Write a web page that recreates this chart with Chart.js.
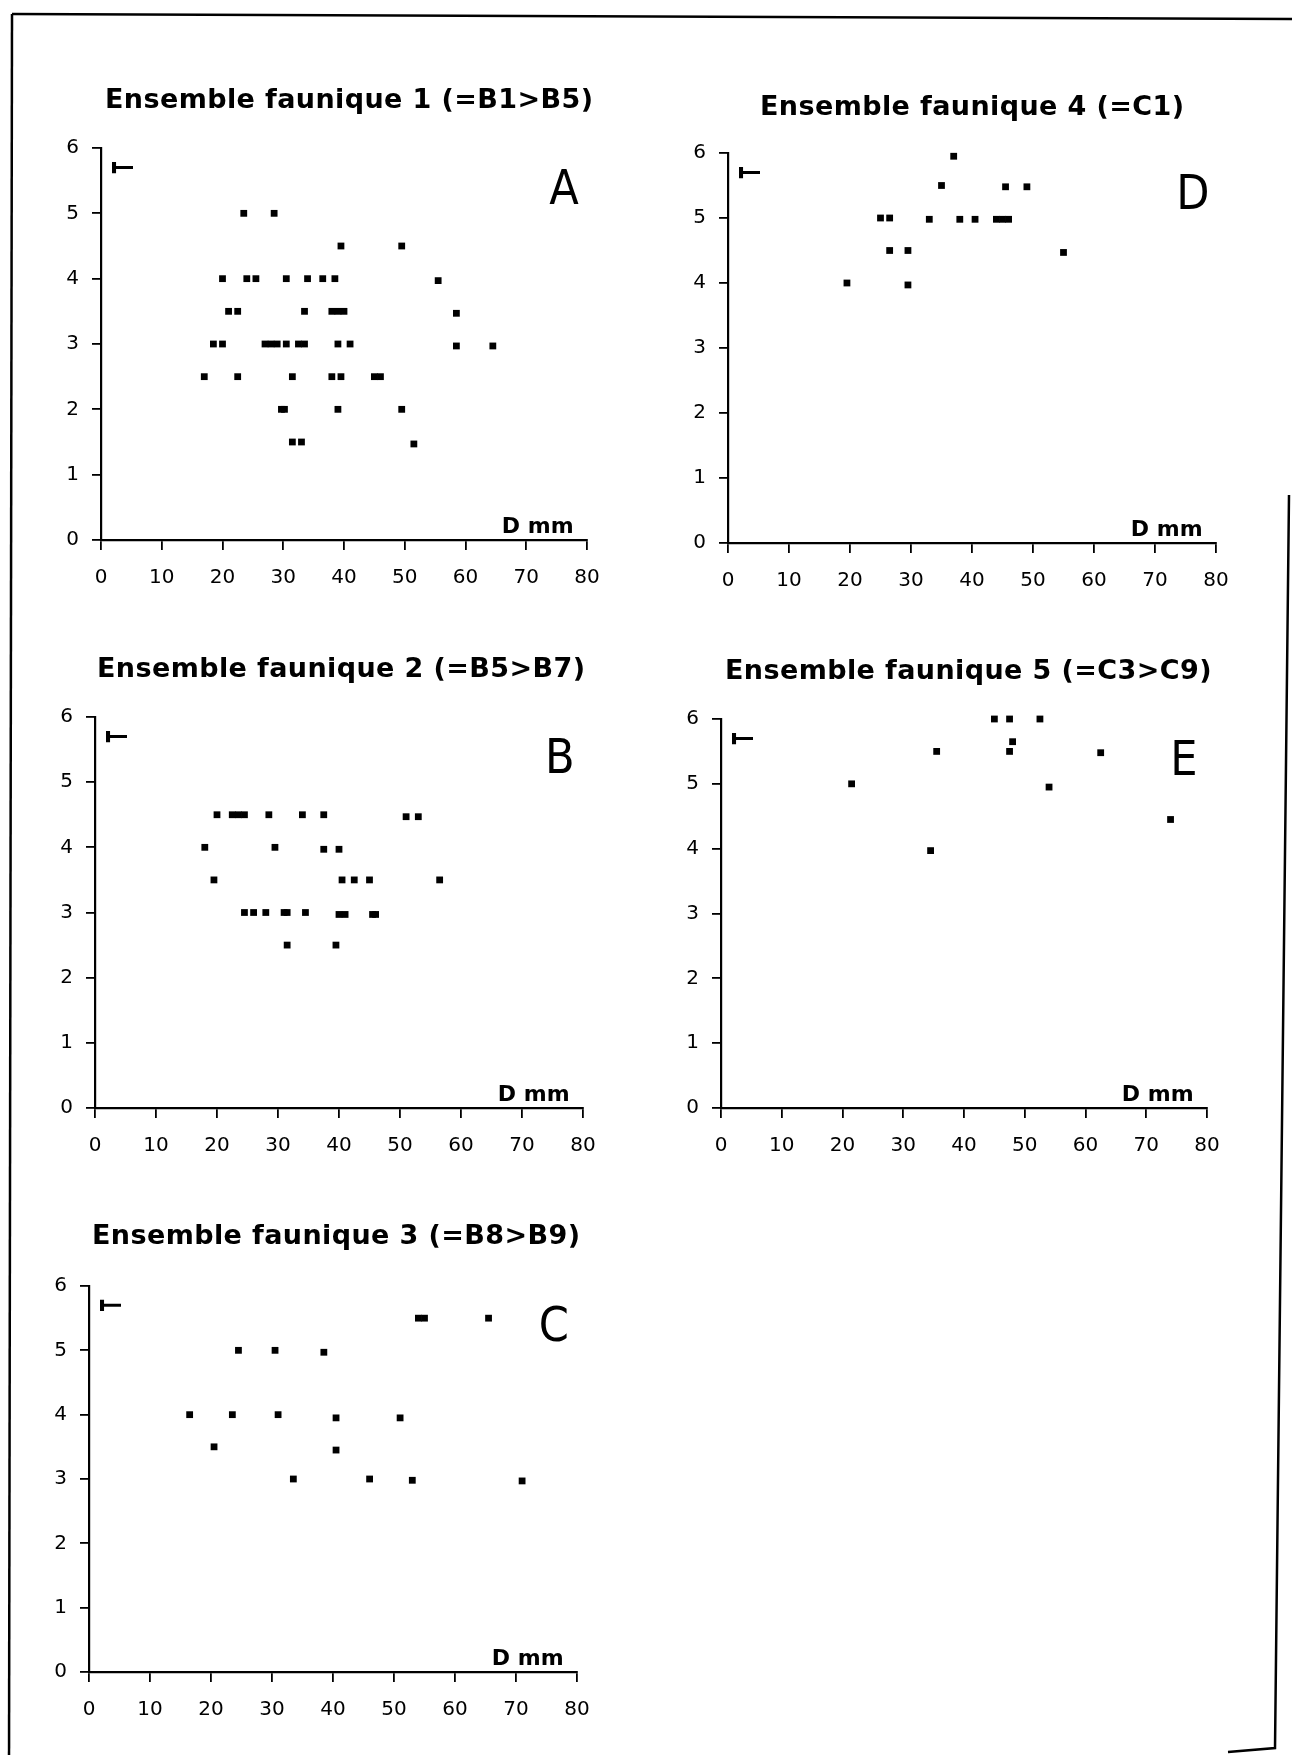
<!DOCTYPE html>
<html>
<head>
<meta charset="utf-8">
<script src="https://cdn.jsdelivr.net/npm/chart.js@4.4.1/dist/chart.umd.min.js"></script>
<style>
body{margin:0;background:#fff;width:1292px;height:1755px;position:relative;overflow:hidden;}
.ttl{position:absolute;font-family:'DejaVu Sans';font-weight:bold;font-size:27px;line-height:27px;letter-spacing:0.4px;white-space:nowrap;color:#000;}
canvas{position:absolute;}
</style>
</head>
<body>
<canvas id="page" width="1292" height="1755" style="left:0;top:0"></canvas>
<script>
var xTicks = [0,10,20,30,40,50,60,70,80];
var yTicks = [0,1,2,3,4,5,6];

// Ensemble faunique 1 (A)
var ens1D = [23.5,28.5, 39.5,49.5, 20,24,25.5,30.5,34,36.5,38.5,55.5, 21,22.5,33.5,38,39,40,58.5,
             18.5,20,27,28,29,30.5,32.5,33.5,39,41,58.5,64.5, 17,22.5,31.5,38,39.5,45,46, 29.7,30.2,39,49.5, 31.5,33,51.5];
var ens1T = [5,5, 4.5,4.5, 4,4,4,4,4,4,4,3.97, 3.5,3.5,3.5,3.5,3.5,3.5,3.47,
             3,3,3,3,3,3,3,3,3,3,2.97,2.97, 2.5,2.5,2.5,2.5,2.5,2.5,2.5, 2,2,2,2, 1.5,1.5,1.47];

// Ensemble faunique 2 (B)
var ens2D = [20,22.5,23.5,24.5,28.5,34,37.5,51,53, 18,29.5,37.5,40, 19.5,40.5,42.5,45,56.5,
             24.5,26,28,31,31.5,34.5,40,41,45.5,46, 31.5,39.5];
var ens2T = [4.5,4.5,4.5,4.5,4.5,4.5,4.5,4.47,4.47, 4,4,3.97,3.97, 3.5,3.5,3.5,3.5,3.5,
             3,3,3,3,3,3,2.97,2.97,2.97,2.97, 2.5,2.5];

// Ensemble faunique 3 (C)
var ens3D = [54,55,65.5, 24.5,30.5,38.5, 16.5,23.5,31,40.5,51, 20.5,40.5, 33.5,46,53,71];
var ens3T = [5.5,5.5,5.5, 5,5,4.97, 4,4,4,3.95,3.95, 3.5,3.45, 3,3,2.98,2.97];

// Ensemble faunique 4 (D)
var ens4D = [37, 35,45.5,49, 25,26.5,33,38,40.5,44,45,46, 26.5,29.5,55, 19.5,29.5];
var ens4T = [5.95, 5.5,5.48,5.48, 5,5,4.98,4.98,4.98,4.98,4.98,4.98, 4.5,4.5,4.47, 4,3.97];

// Ensemble faunique 5 (E)
var ens5D = [45,47.5,52.5, 47.5,48, 35.5,62.5, 21.5,54, 74, 34.5];
var ens5T = [6,6,6, 5.5,5.65, 5.5,5.48, 5,4.95, 4.45, 3.97];

var panels = [
  {title:'Ensemble faunique 1 (=B1>B5)', letter:'A', d:ens1D, t:ens1T, l:101, top:148, r:587, b:540, tx:105, tb:108},
  {title:'Ensemble faunique 4 (=C1)',    letter:'D', d:ens4D, t:ens4T, l:728, top:153, r:1216, b:543, tx:760, tb:115},
  {title:'Ensemble faunique 2 (=B5>B7)', letter:'B', d:ens2D, t:ens2T, l:95, top:717, r:583, b:1108, tx:97, tb:677},
  {title:'Ensemble faunique 5 (=C3>C9)', letter:'E', d:ens5D, t:ens5T, l:721, top:719, r:1207, b:1108, tx:725, tb:679},
  {title:'Ensemble faunique 3 (=B8>B9)', letter:'C', d:ens3D, t:ens3T, l:89, top:1286, r:577, b:1672, tx:92, tb:1244}
];

// page frame of the scanned sheet
var g = document.getElementById('page').getContext('2d');
g.strokeStyle = '#000'; g.lineWidth = 2.5;
g.beginPath(); g.moveTo(12,14); g.lineTo(1292,19); g.stroke();
g.beginPath(); g.moveTo(12,14); g.lineTo(9,1755); g.stroke();
g.beginPath(); g.moveTo(1289,495); g.lineTo(1275,1748); g.lineTo(1228,1752); g.stroke();

var panelMarks = {
  id:'panelMarks',
  afterDraw:function(chart){
    var o = chart.options.plugins.panelMarks, ctx = chart.ctx;
    var sx = chart.scales.x, sy = chart.scales.y;
    ctx.save();
    ctx.fillStyle = '#000';
    ctx.textBaseline = 'alphabetic';
    ctx.font = '48px "DejaVu Sans Condensed", "DejaVu Sans"';
    ctx.textAlign = 'center';
    ctx.fillText(o.letter, sx.getPixelForValue(76.2), sy.getPixelForValue(5.14));
    ctx.font = 'bold 22px "DejaVu Sans"';
    ctx.textAlign = 'right';
    ctx.fillText('D mm', sx.getPixelForValue(77.8), sy.getPixelForValue(0.11));
    // axis name T, turned on its side
    ctx.translate(sx.getPixelForValue(1.9), sy.getPixelForValue(5.7));
    ctx.rotate(-Math.PI/2);
    ctx.scale(0.6, 1);
    ctx.font = 'bold 28px "DejaVu Sans"';
    ctx.textAlign = 'center';
    ctx.fillText('T', 0, 20);
    ctx.restore();
  }
};

function axisOpts(min, max, list, tl, pad, size){
  return {
    type:'linear', min:min, max:max,
    afterBuildTicks:function(s){ s.ticks = list.map(function(v){ return {value:v}; }); },
    afterFit:function(s){ if (s.isHorizontal()) s.height = size; else s.width = size; },
    ticks:{color:'#000', padding:pad, font:{family:'DejaVu Sans', size:20}, autoSkip:false, maxRotation:0},
    grid:{drawOnChartArea:false, drawTicks:true, tickLength:tl, color:'#000', lineWidth:1.8},
    border:{display:true, color:'#000', width:2.2}
  };
}

panels.forEach(function(p){
  var padL = 70, padT = 40, padR = 30, padB = 50;
  var w = p.r - p.l + padL + padR, h = p.b - p.top + padT + padB;
  var cv = document.createElement('canvas');
  cv.width = w; cv.height = h;
  cv.style.left = (p.l - padL) + 'px';
  cv.style.top = (p.top - padT) + 'px';
  document.body.appendChild(cv);

  var tt = document.createElement('div');
  tt.className = 'ttl';
  tt.textContent = p.title;
  tt.style.left = p.tx + 'px';
  tt.style.top = (p.tb - 22.8) + 'px';
  document.body.appendChild(tt);

  new Chart(cv, {
    type:'scatter',
    data:{datasets:[{
      data:p.d.map(function(v,i){ return {x:v, y:p.t[i]}; }),
      pointStyle:'rect', pointRadius:4.8, backgroundColor:'#000', borderWidth:0, clip:false
    }]},
    options:{
      responsive:false, animation:false, events:[], devicePixelRatio:1,
      layout:{padding:{left:0, top:padT, right:padR, bottom:0}},
      scales:{
        x:axisOpts(0, 80, xTicks, 10, 16, padB),
        y:axisOpts(0, 6, yTicks, 9, 13, padL)
      },
      plugins:{legend:{display:false}, tooltip:{enabled:false}, panelMarks:{letter:p.letter}}
    },
    plugins:[panelMarks]
  });
});
</script>
</body>
</html>
